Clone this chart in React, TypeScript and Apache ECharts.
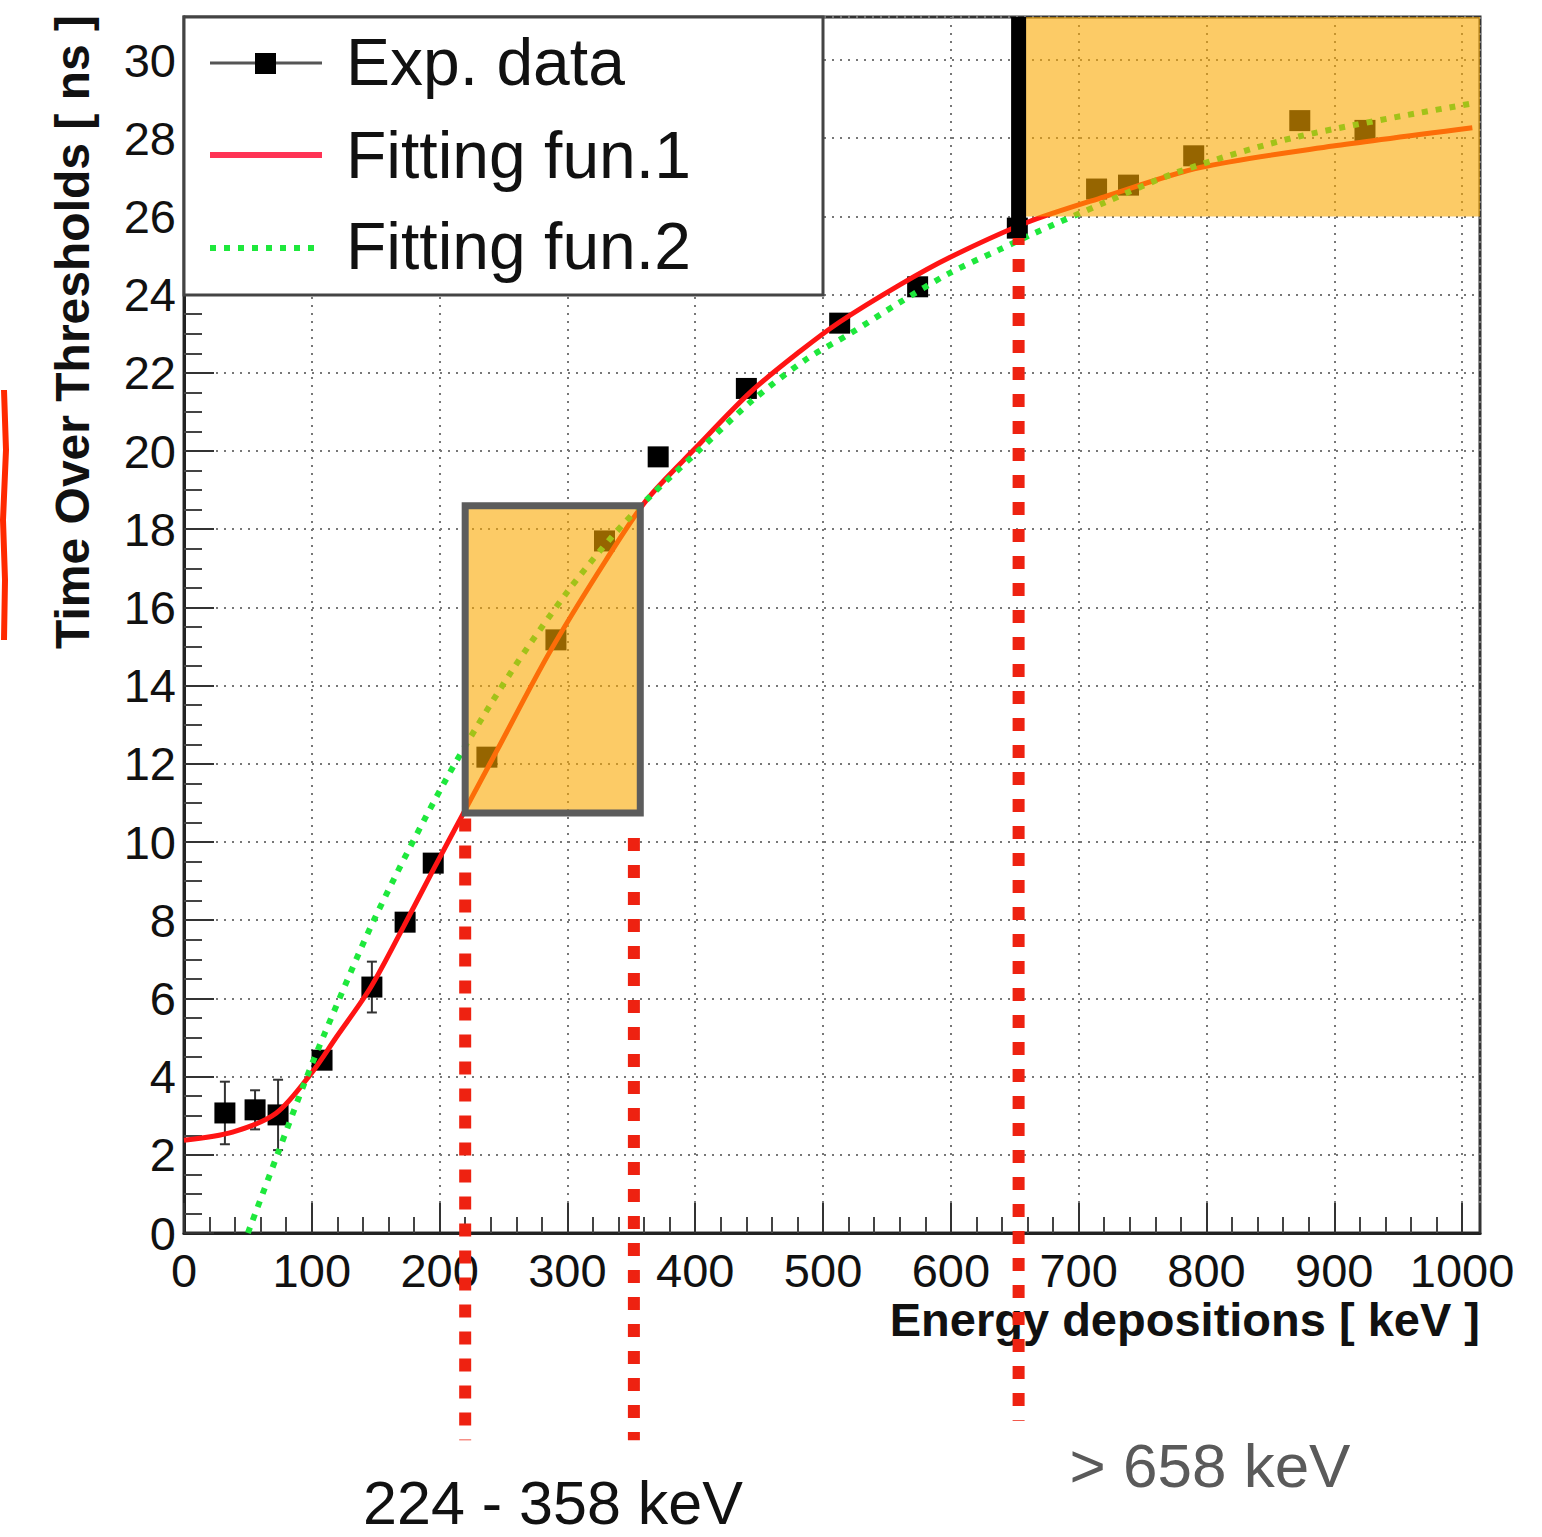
import React, { useEffect, useRef } from "react";
import * as echarts from "echarts";

// Experimental data (Energy [keV], ToT [ns], error [ns])
const expX = [32, 55.6, 73.6, 108, 147, 173, 195, 237, 291, 329, 371, 440, 513, 574, 652, 714, 739, 790, 873, 924];
const expY = [3.07, 3.15, 3.02, 4.42, 6.29, 7.95, 9.46, 12.17, 15.17, 17.7, 19.85, 21.6, 23.27, 24.2, 25.7, 26.7, 26.8, 27.55, 28.45, 28.2];
const expErr = [0.8, 0.5, 0.9, 0.2, 0.65, 0.2, 0.2, 0.2, 0.2, 0.2, 0.2, 0.2, 0.2, 0.2, 0.2, 0.2, 0.2, 0.2, 0.2, 0.2];

// Fitting function 1
const fun1X = [0, 38, 72, 100, 119, 146, 172, 196, 218, 245, 286, 330, 362, 401, 443, 482, 513, 560, 599, 660, 720, 795, 899, 1008];
const fun1Y = [2.37, 2.58, 3.06, 4.1, 5.0, 6.28, 7.85, 9.35, 10.7, 12.35, 14.85, 17.2, 18.75, 20.1, 21.5, 22.55, 23.3, 24.25, 24.95, 25.85, 26.5, 27.25, 27.8, 28.27];

// Fitting function 2
const fun2X = [50, 73, 95, 110, 150, 205, 255, 300, 336, 365, 404, 445, 487, 521, 560, 599, 638, 664, 720, 779, 873, 1010];
const fun2Y = [0, 2.0, 3.9, 5.1, 8.1, 11.6, 14.3, 16.4, 17.85, 18.85, 20.05, 21.3, 22.35, 23.0, 23.8, 24.55, 25.15, 25.55, 26.35, 27.15, 28.05, 28.9];

const xMin = 0;
const xMax = 1014;
const yMin = 0;
const yMax = 31.1;

// Highlighted regions [x1, x2, y1, y2]
const bandLow = [220, 357, 10.74, 18.6];
const bandHigh = [653, xMax, 26, yMax];
// Cut lines [x, yTop, yBottom]
const cutLeft = [220, 10.6, -5.3];
const cutMid = [352, 10.1, -5.3];
const cutHigh = [653, 25.6, -4.8];

const legendNames = ["Exp. data", "Fitting fun.1", "Fitting fun.2"];
const rangeLabels = ["224 - 358 keV", "> 658 keV"];
const xTitle = "Energy depositions [ keV ]";
const yTitle = "Time Over Thresholds [ ns ]";

export default function App() {
  const ref = useRef<HTMLDivElement>(null);
  useEffect(() => {
    const chart = echarts.init(ref.current!, null, { renderer: "svg" });
    const font = "'Liberation Sans', Arial, Helvetica, sans-serif";

    const expData = expX.map((x, i) => [x, expY[i]]);
    const errData = expX.map((x, i) => [x, expY[i] - expErr[i], expY[i] + expErr[i]]);
    const f1 = fun1X.map((x, i) => [x, fun1Y[i]]);
    const f2 = fun2X.map((x, i) => [x, fun2Y[i]]);

    const option: any = {
      animation: false,
      backgroundColor: "#ffffff",
      grid: {
        left: 184,
        top: 17,
        right: 62,
        bottom: 304,
        show: true,
        borderColor: "#333",
        borderWidth: 3,
        backgroundColor: "transparent",
      },
      xAxis: {
        type: "value",
        min: xMin,
        max: xMax,
        interval: 100,
        axisLine: { show: true, lineStyle: { color: "#222", width: 3 } },
        axisTick: { show: true, inside: true, length: 30, lineStyle: { color: "#333", width: 2 } },
        minorTick: { show: true, splitNumber: 5, length: 16, lineStyle: { color: "#444", width: 2 } },
        axisLabel: {
          fontFamily: font,
          fontSize: 47,
          color: "#111",
          margin: 14,
          formatter: (v: number) => (v % 100 === 0 ? String(v) : ""),
        },
        splitLine: { show: true, lineStyle: { color: "#777", width: 2, type: [2, 6] } },
      },
      yAxis: {
        type: "value",
        min: yMin,
        max: yMax,
        interval: 2,
        axisLine: { show: true, lineStyle: { color: "#222", width: 3 } },
        axisTick: { show: true, inside: true, length: 30, lineStyle: { color: "#333", width: 2 } },
        minorTick: { show: true, splitNumber: 4, length: 18, lineStyle: { color: "#444", width: 2 } },
        axisLabel: {
          fontFamily: font,
          fontSize: 47,
          color: "#111",
          margin: 8,
          formatter: (v: number) => (Math.abs(v % 2) < 1e-9 ? String(v) : ""),
        },
        splitLine: { show: true, lineStyle: { color: "#777", width: 2, type: [2, 6] } },
      },
      series: [
        {
          type: "custom",
          name: "errors",
          z: 3,
          data: errData,
          renderItem: (params: any, api: any) => {
            const x = api.value(0);
            const lo = api.coord([x, api.value(1)]);
            const hi = api.coord([x, api.value(2)]);
            const st = { stroke: "#333", lineWidth: 2 };
            return {
              type: "group",
              children: [
                { type: "line", shape: { x1: lo[0], y1: lo[1], x2: hi[0], y2: hi[1] }, style: st },
                { type: "line", shape: { x1: hi[0] - 5, y1: hi[1], x2: hi[0] + 5, y2: hi[1] }, style: st },
                { type: "line", shape: { x1: lo[0] - 5, y1: lo[1], x2: lo[0] + 5, y2: lo[1] }, style: st },
              ],
            };
          },
        },
        {
          type: "scatter",
          name: legendNames[0],
          z: 4,
          data: expData,
          symbol: "rect",
          symbolSize: 21,
          itemStyle: { color: "#000", opacity: 1 },
        },
        {
          type: "line",
          name: legendNames[1],
          z: 5,
          data: f1,
          smooth: 0.3,
          showSymbol: false,
          lineStyle: { color: "#ff1414", width: 5 },
        },
        {
          type: "line",
          name: legendNames[2],
          z: 6,
          data: f2,
          smooth: 0.3,
          showSymbol: false,
          lineStyle: { color: "#1ee83c", width: 6, type: [6, 8] },
        },
        {
          type: "line",
          name: "regions",
          z: 10,
          data: [[xMin, yMin]],
          showSymbol: false,
          lineStyle: { opacity: 0 },
          markArea: {
            silent: true,
            z: 20,
            data: [
              [
                {
                  coord: [bandLow[0], bandLow[3]],
                  itemStyle: { color: "rgba(250,168,0,0.6)", borderColor: "#5c5c5c", borderWidth: 7 },
                },
                { coord: [bandLow[1], bandLow[2]] },
              ],
              [
                {
                  coord: [bandHigh[0], bandHigh[3]],
                  itemStyle: { color: "rgba(250,168,0,0.6)", borderWidth: 0 },
                },
                { coord: [bandHigh[1], bandHigh[2]] },
              ],
            ],
          },
        },
      ],
    };
    chart.setOption(option);

    const px = (x: number, y: number) => chart.convertToPixel({ gridIndex: 0 }, [x, y]) as number[];
    const redDot = { stroke: "#ee2211", lineWidth: 12, lineDash: [13, 14] };
    const vline = (c: number[], style: any) => {
      const a = px(c[0], c[1]);
      const b = px(c[0], c[2]);
      return { type: "line", z: 200, shape: { x1: a[0], y1: a[1], x2: b[0], y2: b[1] }, style };
    };
    const topHigh = px(cutHigh[0], yMax);
    const midHigh = px(cutHigh[0], cutHigh[1]);

    const graphic: any[] = [
      vline(cutLeft, redDot),
      vline(cutMid, redDot),
      vline(cutHigh, redDot),
      {
        type: "line",
        z: 210,
        shape: { x1: topHigh[0], y1: topHigh[1], x2: midHigh[0], y2: midHigh[1] + 6 },
        style: { stroke: "#000", lineWidth: 15 },
      },
      // red scribble at left edge
      {
        type: "polyline",
        z: 200,
        shape: { points: [[4, 390], [6, 450], [3, 520], [5, 580], [4, 640]] },
        style: { stroke: "#ff2a00", lineWidth: 6, fill: "none" },
      },
      // legend box
      {
        type: "rect",
        z: 150,
        shape: { x: 184, y: 17, width: 639, height: 278 },
        style: { fill: "#fff", stroke: "#444", lineWidth: 3 },
      },
      {
        type: "line",
        z: 151,
        shape: { x1: 210, y1: 63, x2: 322, y2: 63 },
        style: { stroke: "#555", lineWidth: 3 },
      },
      {
        type: "rect",
        z: 152,
        shape: { x: 255, y: 53, width: 21, height: 21 },
        style: { fill: "#000" },
      },
      {
        type: "line",
        z: 151,
        shape: { x1: 210, y1: 155, x2: 322, y2: 155 },
        style: { stroke: "#ff3355", lineWidth: 6 },
      },
      {
        type: "line",
        z: 151,
        shape: { x1: 210, y1: 248, x2: 322, y2: 248 },
        style: { stroke: "#1ee83c", lineWidth: 6, lineDash: [6, 8] },
      },
      ...legendNames.map((n, i) => ({
        type: "text",
        z: 152,
        x: 346,
        y: [62, 155, 246][i],
        style: {
          text: n,
          fontFamily: font,
          fontSize: 66,
          fill: "#111",
          align: "left",
          verticalAlign: "middle",
        },
      })),
      // axis titles
      {
        type: "text",
        z: 150,
        x: 72,
        y: 15,
        rotation: Math.PI / 2,
        style: {
          text: yTitle,
          fontFamily: font,
          fontWeight: "bold",
          fontSize: 48,
          fill: "#111",
          align: "right",
          verticalAlign: "middle",
        },
      },
      {
        type: "text",
        z: 150,
        x: 1480,
        y: 1319,
        style: {
          text: xTitle,
          fontFamily: font,
          fontWeight: "bold",
          fontSize: 47,
          fill: "#111",
          align: "right",
          verticalAlign: "middle",
        },
      },
      // range labels
      {
        type: "text",
        z: 150,
        x: 553,
        y: 1503,
        style: {
          text: rangeLabels[0],
          fontFamily: font,
          fontSize: 61,
          fill: "#111",
          align: "center",
          verticalAlign: "middle",
        },
      },
      {
        type: "text",
        z: 150,
        x: 1210,
        y: 1465,
        style: {
          text: rangeLabels[1],
          fontFamily: font,
          fontSize: 62,
          fill: "#5a5a5a",
          align: "center",
          verticalAlign: "middle",
        },
      },
    ];
    chart.setOption({ graphic });

    return () => chart.dispose();
  }, []);
  return (
    <div
      ref={ref}
      style={{ position: "absolute", left: 0, top: 0, width: 1542, height: 1537 }}
    />
  );
}
